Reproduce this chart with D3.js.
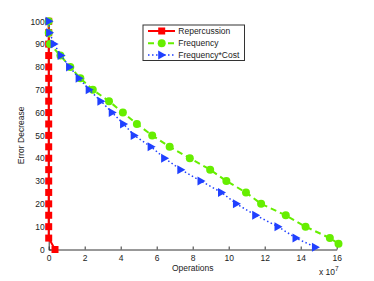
<!DOCTYPE html>
<html><head><meta charset="utf-8">
<script src="https://cdn.jsdelivr.net/npm/d3@7"></script>
<style>body{margin:0;background:#fff}svg{display:block;font-family:"Liberation Sans",Arial,sans-serif}</style>
</head><body><svg id="c" width="374" height="281"></svg>
<script>
const xTicks = [0,2,4,6,8,10,12,14,16];
const yTicks = [0,10,20,30,40,50,60,70,80,90,100];
const seriesNames = ["Repercussion","Frequency","Frequency*Cost"];
const repX = [0,0,0,0,0,0,0,0,0,0,0,0,0,0,0,0,0,0,0,0,0.35];
const repY = [100,95,90,85,80,75,70,65,60,55,50,45,40,35,30,25,20,15,10,5,0];
const freqX = [0,0,0.07,0.65,1.2,1.76,2.45,3.35,4.12,4.9,5.75,6.72,7.84,8.97,9.87,10.96,11.8,13.17,14.27,15.62,16.1];
const freqY = [100,95,90,85,80,75,70,65,60,55,50,45,40,35,30,25,20,15,10,5,2.5];
const fcX = [0.02,0.05,0.3,0.69,1.16,1.69,2.25,2.9,3.53,4.16,4.75,5.69,6.44,7.34,8.46,9.6,10.43,11.5,12.74,13.74,14.82];
const fcY = [100,95,90,85,80,75,70,65,60,55,50,45,40,35,30,25,20,15,10,5,1];

const svg = d3.select("#c");
const x = d3.scaleLinear().domain([0,16]).range([48.7,336.7]);
const y = d3.scaleLinear().domain([0,100]).range([249.5,21.3]);
const txt = "#222";

// axes
const xa = svg.append("g").attr("transform","translate(0,249.5)")
  .call(d3.axisBottom(x).tickValues(xTicks).tickSizeInner(-3).tickSizeOuter(0).tickPadding(5));
const ya = svg.append("g").attr("transform","translate(48.7,0)")
  .call(d3.axisLeft(y).tickValues(yTicks).tickSizeInner(-3).tickSizeOuter(0).tickPadding(4));
[xa,ya].forEach(a=>{
  a.select(".domain").attr("stroke","#333").attr("stroke-width",1);
  a.selectAll(".tick line").attr("stroke","#333");
  a.selectAll("text").attr("fill",txt).attr("font-size",8.5).attr("font-family","Liberation Sans, Arial, sans-serif");
});

const colors = ["#ff0000","#66ee00","#2040ff"];
const mk = (xs,ys)=>xs.map((v,i)=>[v,ys[i]]);
const data = [mk(repX,repY), mk(freqX,freqY), mk(fcX,fcY)];
const line = d3.line().x(d=>x(d[0])).y(d=>y(d[1]));

// Repercussion
svg.append("path").datum(data[0]).attr("d",line).attr("fill","none").attr("stroke",colors[0]).attr("stroke-width",2);
svg.append("g").selectAll("rect").data(data[0]).join("rect")
  .attr("x",d=>x(d[0])-3.5).attr("y",d=>y(d[1])-3.5).attr("width",7).attr("height",7).attr("fill",colors[0]);
// Frequency
svg.append("path").datum(data[1]).attr("d",line).attr("fill","none").attr("stroke",colors[1]).attr("stroke-width",2).attr("stroke-dasharray","6,4");
svg.append("g").selectAll("circle").data(data[1]).join("circle")
  .attr("cx",d=>x(d[0])).attr("cy",d=>y(d[1])).attr("r",4).attr("fill",colors[1]);
// Frequency*Cost
svg.append("path").datum(data[2]).attr("d",line).attr("fill","none").attr("stroke",colors[2]).attr("stroke-width",1.5).attr("stroke-dasharray","1.5,2.5");
const tri = "M-3.5,-4.5L4.5,0L-3.5,4.5Z";
svg.append("g").selectAll("path").data(data[2]).join("path")
  .attr("transform",d=>`translate(${x(d[0])},${y(d[1])})`).attr("d",tri).attr("fill",colors[2]);

// labels
svg.append("text").attr("x",192.7).attr("y",271).attr("text-anchor","middle").attr("font-size",8.5).attr("fill",txt).text("Operations");
svg.append("text").attr("transform","translate(24,135.4) rotate(-90)").attr("text-anchor","middle").attr("font-size",8.5).attr("fill",txt).text("Error Decrease");
const ex = svg.append("text").attr("x",319).attr("y",275).attr("font-size",8.5).attr("fill",txt);
ex.append("tspan").text("x 10");
ex.append("tspan").attr("dy",-4).attr("font-size",6.5).text("7");

// legend
const lg = svg.append("g");
lg.append("rect").attr("x",143).attr("y",25).attr("width",101.5).attr("height",35.5).attr("fill","#fff").attr("stroke","#333").attr("stroke-width",1);
const ly = [31,43.3,55];
const dash = [null,"6,4","1.5,2.5"];
const sw = [2,2,1.5];
seriesNames.forEach((n,i)=>{
  lg.append("line").attr("x1",148).attr("x2",175).attr("y1",ly[i]).attr("y2",ly[i]).attr("stroke",colors[i]).attr("stroke-width",sw[i]).attr("stroke-dasharray",dash[i]);
  if(i===0) lg.append("rect").attr("x",161.7-3.5).attr("y",ly[i]-3.5).attr("width",7).attr("height",7).attr("fill",colors[i]);
  if(i===1) lg.append("circle").attr("cx",161.7).attr("cy",ly[i]).attr("r",4).attr("fill",colors[i]);
  if(i===2) lg.append("path").attr("transform",`translate(161.7,${ly[i]})`).attr("d",tri).attr("fill",colors[i]);
  lg.append("text").attr("x",178.3).attr("y",ly[i]+3).attr("font-size",8.5).attr("fill",txt).text(n);
});
</script></body></html>
